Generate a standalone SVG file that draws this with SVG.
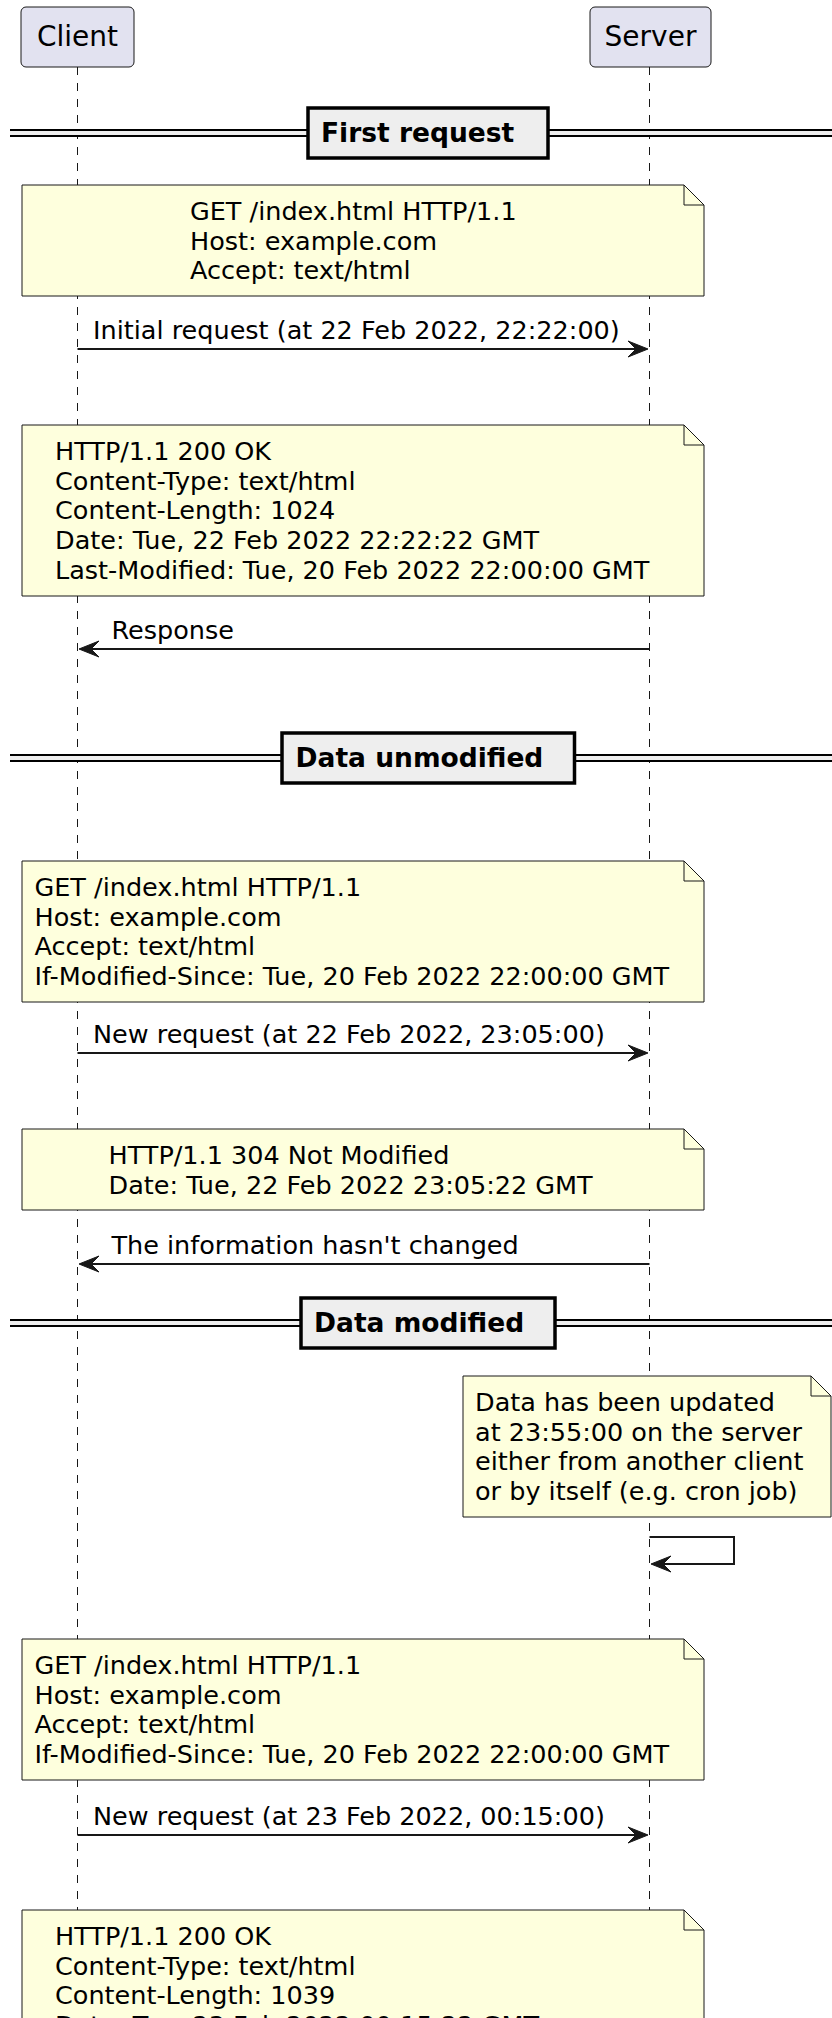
<svg xmlns="http://www.w3.org/2000/svg" width="832" height="2018" viewBox="0 0 832 2018">
<style>
.bg{fill:#FFFFFF}
.part{fill:#E2E2F0;stroke:#181818;stroke-width:1}
.ptxt{font-family:"DejaVu Sans",sans-serif;font-size:28px;fill:#000;text-anchor:middle}
.life{stroke:#181818;stroke-width:1;stroke-dasharray:8,8;fill:none}
.note{fill:#FEFFDD;stroke:#181818;stroke-width:1}
.fold{fill:none;stroke:#181818;stroke-width:1}
.ntxt{font-family:"DejaVu Sans",sans-serif;font-size:25.5px;fill:#000}
.msg{stroke:#181818;stroke-width:2;fill:none}
.head{fill:#181818;stroke:#181818;stroke-width:1}
.dline{stroke:#000;stroke-width:2}
.dband{fill:#EEEEEE}
.dbox{fill:#EEEEEE;stroke:#000;stroke-width:3.5}
.dtxt{font-family:"DejaVu Sans",sans-serif;font-size:26.5px;font-weight:bold;fill:#000}
</style>
<rect class="bg" x="0" y="0" width="832" height="2018"/>

<g id="lifelines">
<line class="life" x1="77.5" y1="67" x2="77.5" y2="2018"/>
<line class="life" x1="649.5" y1="67" x2="649.5" y2="2018"/>
</g>

<g id="participant-client">
<rect class="part" x="21" y="7" width="113" height="60" rx="5"/>
<text class="ptxt" x="77.5" y="46">Client</text>
</g>
<g id="participant-server">
<rect class="part" x="590" y="7" width="121" height="60" rx="5"/>
<text class="ptxt" x="650.5" y="46">Server</text>
</g>

<g id="divider-first-request">
<rect class="dband" x="10" y="130" width="822" height="6"/>
<line class="dline" x1="10" y1="130" x2="832" y2="130"/>
<line class="dline" x1="10" y1="136" x2="832" y2="136"/>
<rect class="dbox" x="308" y="108" width="240" height="50"/>
<text class="dtxt" x="321" y="142">First request</text>
</g>

<g id="note-1">
<path class="note" d="M22,185 L684,185 L704,205 L704,296 L22,296 Z"/>
<path class="fold" d="M684,185 L684,205 L704,205"/>
<text class="ntxt" x="190" y="220">GET /index.html HTTP/1.1</text>
<text class="ntxt" x="190" y="250">Host: example.com</text>
<text class="ntxt" x="190" y="279">Accept: text/html</text>
</g>

<g id="note-2">
<path class="note" d="M22,425 L684,425 L704,445 L704,596 L22,596 Z"/>
<path class="fold" d="M684,425 L684,445 L704,445"/>
<text class="ntxt" x="55" y="460">HTTP/1.1 200 OK</text>
<text class="ntxt" x="55" y="490">Content-Type: text/html</text>
<text class="ntxt" x="55" y="519">Content-Length: 1024</text>
<text class="ntxt" x="55" y="549">Date: Tue, 22 Feb 2022 22:22:22 GMT</text>
<text class="ntxt" x="55" y="579">Last-Modified: Tue, 20 Feb 2022 22:00:00 GMT</text>
</g>

<g id="divider-data-unmodified">
<rect class="dband" x="10" y="755" width="822" height="6"/>
<line class="dline" x1="10" y1="755" x2="832" y2="755"/>
<line class="dline" x1="10" y1="761" x2="832" y2="761"/>
<rect class="dbox" x="282" y="733" width="292.5" height="50"/>
<text class="dtxt" x="295.5" y="767">Data unmodified</text>
</g>

<g id="note-3">
<path class="note" d="M22,861 L684,861 L704,881 L704,1002 L22,1002 Z"/>
<path class="fold" d="M684,861 L684,881 L704,881"/>
<text class="ntxt" x="34.5" y="896">GET /index.html HTTP/1.1</text>
<text class="ntxt" x="34.5" y="926">Host: example.com</text>
<text class="ntxt" x="34.5" y="955">Accept: text/html</text>
<text class="ntxt" x="34.5" y="985">If-Modified-Since: Tue, 20 Feb 2022 22:00:00 GMT</text>
</g>

<g id="note-4">
<path class="note" d="M22,1129 L684,1129 L704,1149 L704,1210 L22,1210 Z"/>
<path class="fold" d="M684,1129 L684,1149 L704,1149"/>
<text class="ntxt" x="108.5" y="1164">HTTP/1.1 304 Not Modified</text>
<text class="ntxt" x="108.5" y="1194">Date: Tue, 22 Feb 2022 23:05:22 GMT</text>
</g>

<g id="divider-data-modified">
<rect class="dband" x="10" y="1320" width="822" height="6"/>
<line class="dline" x1="10" y1="1320" x2="832" y2="1320"/>
<line class="dline" x1="10" y1="1326" x2="832" y2="1326"/>
<rect class="dbox" x="301" y="1298" width="254" height="50"/>
<text class="dtxt" x="314" y="1332">Data modified</text>
</g>

<g id="note-5">
<path class="note" d="M463,1376 L811,1376 L831,1396 L831,1517 L463,1517 Z"/>
<path class="fold" d="M811,1376 L811,1396 L831,1396"/>
<text class="ntxt" x="475" y="1411">Data has been updated</text>
<text class="ntxt" x="475" y="1441">at 23:55:00 on the server</text>
<text class="ntxt" x="475" y="1470">either from another client</text>
<text class="ntxt" x="475" y="1500">or by itself (e.g. cron job)</text>
</g>

<g id="note-6">
<path class="note" d="M22,1639 L684,1639 L704,1659 L704,1780 L22,1780 Z"/>
<path class="fold" d="M684,1639 L684,1659 L704,1659"/>
<text class="ntxt" x="34.5" y="1674">GET /index.html HTTP/1.1</text>
<text class="ntxt" x="34.5" y="1704">Host: example.com</text>
<text class="ntxt" x="34.5" y="1733">Accept: text/html</text>
<text class="ntxt" x="34.5" y="1763">If-Modified-Since: Tue, 20 Feb 2022 22:00:00 GMT</text>
</g>

<g id="note-7">
<path class="note" d="M22,1910 L684,1910 L704,1930 L704,2080 L22,2080 Z"/>
<path class="fold" d="M684,1910 L684,1930 L704,1930"/>
<text class="ntxt" x="55" y="1945">HTTP/1.1 200 OK</text>
<text class="ntxt" x="55" y="1975">Content-Type: text/html</text>
<text class="ntxt" x="55" y="2004">Content-Length: 1039</text>
<text class="ntxt" x="55" y="2034">Date: Tue, 23 Feb 2022 00:15:22 GMT</text>
</g>

<g id="connectors">
<g id="msg-initial-request">
<line class="msg" x1="77.5" y1="349" x2="646" y2="349"/>
<polygon class="head" points="628,341 648,349 628,357 636,349"/>
<text class="ntxt" x="93" y="339">Initial request (at 22 Feb 2022, 22:22:00)</text>
</g>
<g id="msg-response">
<line class="msg" x1="649.5" y1="649" x2="81" y2="649"/>
<polygon class="head" points="99,641 79,649 99,657 91,649"/>
<text class="ntxt" x="111.5" y="639">Response</text>
</g>
<g id="msg-new-request-1">
<line class="msg" x1="77.5" y1="1053" x2="646" y2="1053"/>
<polygon class="head" points="628,1045 648,1053 628,1061 636,1053"/>
<text class="ntxt" x="93" y="1043">New request (at 22 Feb 2022, 23:05:00)</text>
</g>
<g id="msg-not-changed">
<line class="msg" x1="649.5" y1="1264" x2="81" y2="1264"/>
<polygon class="head" points="99,1256 79,1264 99,1272 91,1264"/>
<text class="ntxt" x="111.5" y="1254">The information hasn't changed</text>
</g>
<g id="msg-self-update">
<polyline class="msg" points="649.5,1537 734,1537 734,1564 654,1564"/>
<polygon class="head" points="671,1556 651,1564 671,1572 663,1564"/>
</g>
<g id="msg-new-request-2">
<line class="msg" x1="77.5" y1="1835" x2="646" y2="1835"/>
<polygon class="head" points="628,1827 648,1835 628,1843 636,1835"/>
<text class="ntxt" x="93" y="1825">New request (at 23 Feb 2022, 00:15:00)</text>
</g>
</g>
</svg>
